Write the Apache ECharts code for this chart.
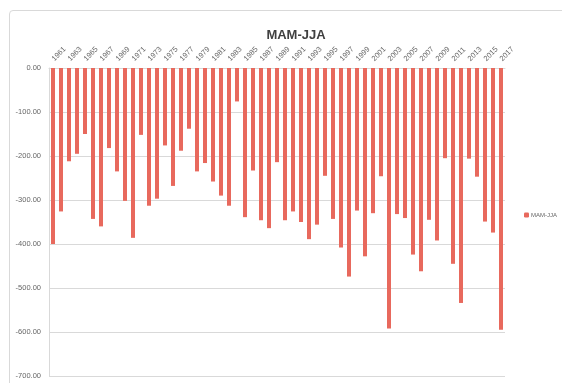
<!DOCTYPE html>
<html>
<head>
<meta charset="utf-8">
<script src="https://cdn.jsdelivr.net/npm/echarts@6/dist/echarts.min.js"></script>
<style>
  html, body { margin: 0; padding: 0; background: #fff; overflow: hidden; }
  #frame { position: absolute; left: 9px; top: 10px; width: 620px; height: 420px;
           border: 1px solid #d9d9d9; border-radius: 4px; box-sizing: border-box; }
  #chart { position: absolute; left: 0; top: 0; width: 562px; height: 383px; }
</style>
</head>
<body>
<div id="frame"></div>
<div id="chart"></div>
<script>
// Years 1961–2017
const years = [];
for (let y = 1961; y <= 2017; y++) years.push(String(y));

// MAM-JJA difference per year
const mamJja = [
  -400, -326, -212, -195, -150, -343, -360, -182, -235, -302,
  -386, -152, -313, -297, -176, -268, -188, -138, -235, -216,
  -258, -290, -313, -76, -339, -233, -346, -364, -214, -346,
  -326, -350, -389, -356, -245, -343, -408, -474, -324, -428,
  -330, -246, -592, -332, -341, -424, -462, -345, -392, -205,
  -445, -534, -206, -247, -349, -374, -595
];

const seriesName = 'MAM-JJA';
const barColor = '#e8695d';

const chart = echarts.init(document.getElementById('chart'), null, { renderer: 'canvas' });
chart.setOption({
  backgroundColor: 'transparent',
  animation: false,
  title: {
    text: 'MAM-JJA',
    left: 291,
    top: 24,
    textAlign: 'center',
    textStyle: { fontFamily: 'Liberation Sans, Arial', fontSize: 13, fontWeight: 'bold', color: '#404040' }
  },
  legend: {
    data: [seriesName],
    left: 519,
    top: 207,
    itemWidth: 5,
    itemHeight: 5,
    itemGap: 2,
    textStyle: { fontFamily: 'Liberation Sans, Arial', fontSize: 6, color: '#666', padding: [0, 0, 0, -3] }
  },
  grid: { left: 49, top: 68, width: 456, height: 308, containLabel: false },
  xAxis: {
    type: 'category',
    position: 'top',
    data: years,
    axisLine: { show: true, lineStyle: { color: '#d9d9d9' } },
    axisTick: { show: false },
    axisLabel: {
      interval: 1,
      rotate: 45,
      margin: 8,
      fontFamily: 'Liberation Sans, Arial',
      fontSize: 7.5,
      color: '#666'
    }
  },
  yAxis: {
    type: 'value',
    min: -700,
    max: 0,
    interval: 100,
    axisLine: { show: true, lineStyle: { color: '#d9d9d9' } },
    axisTick: { show: false },
    splitLine: { show: true, lineStyle: { color: '#d9d9d9' } },
    axisLabel: {
      margin: 8,
      fontFamily: 'Liberation Sans, Arial',
      fontSize: 7.5,
      color: '#666',
      formatter: v => v.toFixed(2)
    }
  },
  series: [{
    name: seriesName,
    type: 'bar',
    data: mamJja,
    barCategoryGap: '50%',
    itemStyle: { color: barColor }
  }]
});
</script>
</body>
</html>
